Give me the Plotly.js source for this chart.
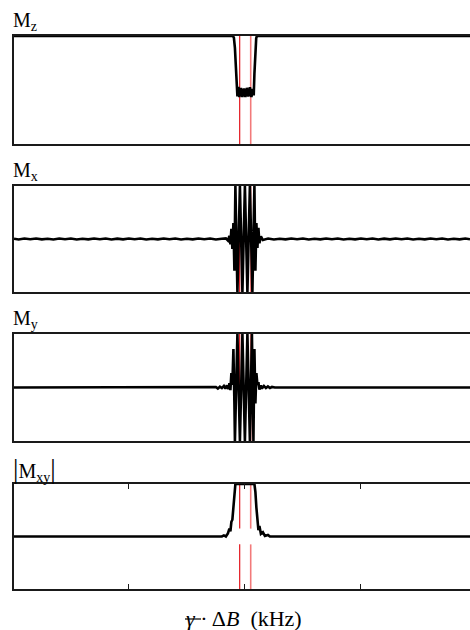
<!DOCTYPE html>
<html>
<head>
<meta charset="utf-8">
<script src="https://cdn.plot.ly/plotly-3.0.1.min.js"></script>
<style>html,body{margin:0;padding:0;background:#fff;overflow:hidden;}#chart{width:470px;height:630px;}</style>
</head>
<body>
<div id="chart"></div>
<script>
// ---- data (x in kHz, magnetization components in [-1, 1]) ----
const xRange = [-3.98, 3.88];
const xTicks = [-2, 0, 2];
const redLineX = [-0.09, 0.10];
const panelLabels = ['M<sub>z</sub>', 'M<sub>x</sub>', 'M<sub>y</sub>', '<span style="font-size:27px">|</span>M<sub>xy</sub><span style="font-size:27px">|</span>'];
const xTitle = '<i>\u03B3</i> \u00B7 \u0394<i>B</i>\u00A0\u00A0(kHz)';

const mzX = [-3.98, -0.207, -0.19, -0.172, -0.155, -0.141, -0.129, -0.112, -0.095, -0.069, -0.043, -0.017, 0.009, 0.034, 0.06, 0.086, 0.112, 0.138, 0.152, 0.164, 0.178, 0.195, 0.207, 3.88];
const mzY = [1, 1, 0.97, 0.78, 0.42, 0.12, -0.12, 0.06, -0.13, 0.04, -0.13, 0.03, -0.13, 0.04, -0.12, 0.05, -0.13, 0.02, -0.1, 0.3, 0.72, 0.96, 1, 1];

const mxX = [-3.98, -3.9, -3.8, -3.7, -3.6, -3.5, -3.4, -3.3, -3.2, -3.1, -3.0, -2.9, -2.8, -2.7, -2.6, -2.5, -2.4, -2.3, -2.2, -2.1, -2.0, -1.9, -1.8, -1.7, -1.6, -1.5, -1.4, -1.3, -1.2, -1.1, -1.0, -0.9, -0.8, -0.7, -0.6, -0.5, -0.4,
  -0.328, -0.293, -0.267, -0.25, -0.233, -0.216, -0.198, -0.181, -0.164, -0.129, -0.086, -0.043, 0.0, 0.043, 0.086, 0.129, 0.164, 0.181, 0.198, 0.216, 0.233, 0.25, 0.276, 0.31,
  0.4, 0.5, 0.6, 0.7, 0.8, 0.9, 1.0, 1.1, 1.2, 1.3, 1.4, 1.5, 1.6, 1.7, 1.8, 1.9, 2.0, 2.1, 2.2, 2.3, 2.4, 2.5, 2.6, 2.7, 2.8, 2.9, 3.0, 3.1, 3.2, 3.3, 3.4, 3.5, 3.6, 3.7, 3.8, 3.88];
const mxY = [0.005, -0.01, 0.008, -0.005, 0.01, -0.008, 0.005, -0.01, 0.01, -0.005, 0.008, -0.01, 0.005, -0.008, 0.01, -0.005, 0.008, -0.01, 0.006, -0.008, 0.01, -0.005, 0.008, -0.01, 0.005, -0.008, 0.01, -0.006, 0.008, -0.01, 0.005, -0.008, 0.01, -0.005, 0.008, -0.01, 0.005,
  0.01, -0.03, 0.06, -0.1, 0.19, -0.19, 0.3, -0.6, 1.0, -1.0, 1.0, -1.0, 1.0, -1.0, 1.0, -1.0, 1.0, -0.6, 0.3, -0.17, 0.21, -0.08, 0.05, -0.02,
  0.008, -0.01, 0.005, -0.008, 0.01, -0.005, 0.008, -0.01, 0.005, -0.008, 0.01, -0.006, 0.008, -0.01, 0.005, -0.008, 0.01, -0.005, 0.008, -0.01, 0.006, -0.008, 0.01, -0.005, 0.008, -0.01, 0.005, -0.008, 0.01, -0.005, 0.008, -0.01, 0.005, -0.008, 0.01, -0.005];

const myX = [-3.98, -0.534, -0.5, -0.466, -0.431, -0.397, -0.362, -0.336, -0.31, -0.284, -0.267, -0.25, -0.233, -0.216, -0.198, -0.181, -0.172, -0.129, -0.086, -0.043, 0.0, 0.043, 0.086, 0.121, 0.147, 0.164, 0.181, 0.198, 0.216, 0.233, 0.25, 0.276, 0.293, 0.328, 0.362, 0.397, 0.431, 0.466, 0.517, 3.88];
const myY = [0, 0, 0.01, -0.02, 0.015, -0.01, 0.03, -0.02, 0.04, -0.03, 0.08, -0.05, 0.27, 0.05, 0.72, -0.3, -1.0, 1.0, -1.0, 1.0, -1.0, 1.0, -1.0, 1.0, -1.0, 0.72, -0.3, 0.27, 0.05, 0.1, -0.04, 0.04, -0.02, 0.03, -0.01, 0.02, -0.01, 0.01, 0, 0];

const mxyX = [-3.98, -0.397, -0.362, -0.328, -0.293, -0.267, -0.25, -0.233, -0.216, -0.198, -0.181, -0.164, 0.164, 0.181, 0.198, 0.216, 0.233, 0.25, 0.276, 0.31, 0.345, 0.397, 0.431, 3.88];
const mxyY = [0, 0, 0.02, 0.0, 0.06, 0.15, 0.1, 0.28, 0.32, 0.55, 0.85, 1, 1, 0.85, 0.55, 0.3, 0.12, 0.2, 0.05, 0.08, 0.01, 0.03, 0, 0];
const mxyRedGap = [0.15, -0.15];

// ---- layout ----
const domains = [[0.8047, 1.0], [0.5371, 0.7288], [0.2676, 0.4611], [0.0, 0.1899]];
const FONT = '"Liberation Serif", "DejaVu Serif", serif';
const LINE = '#1a1a1a';
const series = [[mzX, mzY], [mxX, mxY], [myX, myY], [mxyX, mxyY]];

const traces = series.map((s, i) => ({
  x: s[0], y: s[1], type: 'scatter', mode: 'lines',
  xaxis: i === 0 ? 'x' : 'x' + (i + 1), yaxis: i === 0 ? 'y' : 'y' + (i + 1),
  line: {color: '#000', width: 2.6}, hoverinfo: 'skip'
}));

const layout = {
  width: 470, height: 630,
  margin: {l: 14, r: 0, t: 36, b: 41, pad: 0},
  paper_bgcolor: '#fff', plot_bgcolor: '#fff',
  showlegend: false,
  font: {family: FONT, color: '#000'},
  annotations: [], shapes: []
};

const redColors = ['#e3161e', '#f27a7a'];
const redWidths = [1.2, 1.6];

domains.forEach((d, i) => {
  const sfx = i === 0 ? '' : String(i + 1);
  const xa = 'x' + sfx, ya = 'y' + sfx;
  layout['xaxis' + sfx] = {
    domain: [0, 1], anchor: ya, range: xRange, showline: true, linecolor: LINE, linewidth: 2,
    mirror: i === 3 ? 'ticks' : true, showgrid: false, zeroline: false, showticklabels: false,
    ticks: i === 3 ? 'inside' : '', tickvals: xTicks, ticklen: 5, tickwidth: 1, tickcolor: LINE,
    fixedrange: true
  };
  if (i > 0) layout['xaxis' + sfx].matches = 'x';
  layout['yaxis' + sfx] = {
    domain: d, anchor: xa, range: [-1, 1], showline: true, linecolor: LINE, linewidth: 2,
    mirror: false, showgrid: false, zeroline: false, showticklabels: false, ticks: '', fixedrange: true
  };
  layout.annotations.push({
    text: panelLabels[i], xref: 'paper', yref: 'paper', x: 0, y: d[1],
    xanchor: 'left', yanchor: 'bottom', xshift: -3, yshift: i === 3 ? -3 : 0, showarrow: false,
    font: {family: FONT, size: 20, color: '#000'}
  });
  redLineX.forEach((rx, k) => {
    if (i === 3) {
      layout.shapes.push({type: 'line', xref: xa, yref: ya, x0: rx, x1: rx, y0: 1, y1: mxyRedGap[0], layer: 'below', line: {color: redColors[k], width: redWidths[k]}});
      layout.shapes.push({type: 'line', xref: xa, yref: ya, x0: rx, x1: rx, y0: mxyRedGap[1], y1: -1, layer: 'below', line: {color: redColors[k], width: redWidths[k]}});
    } else {
      layout.shapes.push({type: 'line', xref: xa, yref: ya, x0: rx, x1: rx, y0: 1, y1: -1, layer: 'below', line: {color: redColors[k], width: redWidths[k]}});
    }
  });
});

// x-axis title, with the bar of the reduced gyromagnetic ratio drawn over the gamma
layout.annotations.push({
  text: xTitle, xref: 'paper', yref: 'paper',
  x: (186 - 14) / 456, y: 0, xanchor: 'left', yanchor: 'top', xshift: -2, yshift: -15, showarrow: false,
  font: {family: FONT, size: 22, color: '#000'}
});
layout.shapes.push({
  type: 'line', xref: 'paper', yref: 'paper',
  x0: (185 - 14) / 456, x1: (201 - 14) / 456, y0: (589 - 619) / 553, y1: (589 - 619) / 553,
  line: {color: '#000', width: 1.2}
});

Plotly.newPlot('chart', traces, layout, {staticPlot: true, displayModeBar: false});
</script>
</body>
</html>
